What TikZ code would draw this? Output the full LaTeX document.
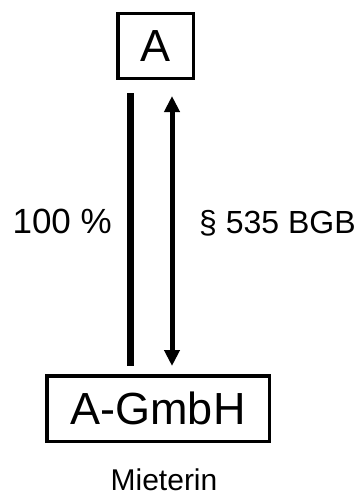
\documentclass[tikz,border=0pt]{standalone}
\usepackage{fontspec}
\setmainfont{Liberation Sans}
\usepackage{xcolor}
\usepackage{tikz}
\usetikzlibrary{arrows.meta,positioning}
\tikzset{
  entity/.style={rectangle, draw=black, line width=3.5pt, fill=white,
    align=center, inner sep=0pt, font=\fontsize{45}{50}\selectfont},
  share/.style={line width=7pt, draw=black},
  lease/.style={{Triangle[length=16pt,width=15pt]}-{Triangle[length=16pt,width=15pt]}, line width=5pt, draw=black},
  lbl/.style={inner sep=0pt, font=\fontsize{35}{40}\selectfont},
  role/.style={inner sep=0pt, font=\fontsize{30}{34}\selectfont},
}

\begin{document}
\begin{tikzpicture}[x=1pt,y=1pt]
    \useasboundingbox (0,0) rectangle (362,-495);

    \node[entity, minimum width=75.5pt, minimum height=64.5pt] (parent) at (155.5,-46) {A};
    \node[entity, minimum width=222.5pt, minimum height=65.5pt] (gmbh) at (158,-408.5) {A-GmbH};

    \coordinate (shareTop) at (130,-93);
    \coordinate (shareBot) at (130,-366);
    \coordinate (leaseTop) at (172,-96);
    \coordinate (leaseBot) at (172,-366);

    \draw[share] (shareTop) -- (shareBot);
    \draw[lease] (leaseTop) -- (leaseBot);

    \node[lbl, anchor=base east] (pct) at (112,-233) {100 \%};
    \node[lbl, anchor=base west, font=\fontsize{32}{36}\selectfont] (law) at (199,-233) {\S\ 535 BGB};

    \node[role, anchor=base] (tenant) at (164,-490) {Mieterin};
  \end{tikzpicture}
\end{document}
